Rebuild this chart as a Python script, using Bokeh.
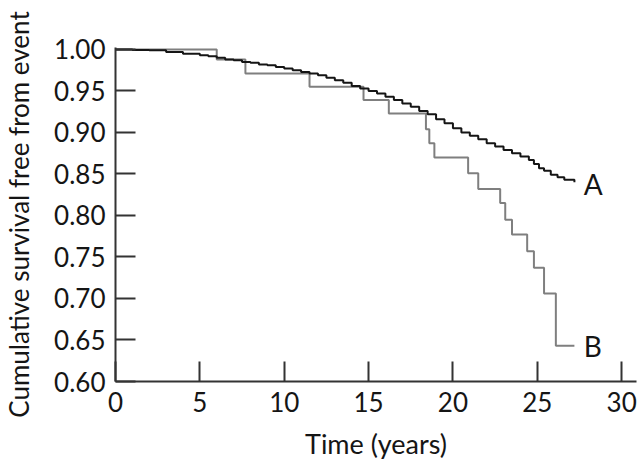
from bokeh.plotting import figure
from bokeh.models import FixedTicker, Range1d, Label, PrintfTickFormatter
from bokeh.embed import file_html
from bokeh.resources import INLINE

# Series A (black) Kaplan-Meier steps
a_time = [0, 1, 2, 3, 4, 5, 5.5, 6, 6.5, 7, 7.5, 8, 8.5, 9, 9.5, 10, 10.5, 11, 11.5,
          12, 12.5, 13, 13.5, 14, 14.5, 15, 15.5, 16, 16.5, 17, 17.5, 18, 18.5, 19,
          19.5, 20, 20.5, 21, 21.5, 22, 22.5, 23, 23.5, 24, 24.5, 24.8, 25.1, 25.4,
          25.8, 26.2, 26.6, 27.2]
a_surv = [1.000, 0.9995, 0.999, 0.997, 0.995, 0.993, 0.992, 0.990, 0.988, 0.987,
          0.985, 0.984, 0.982, 0.981, 0.979, 0.977, 0.975, 0.973, 0.971, 0.969,
          0.966, 0.963, 0.960, 0.956, 0.953, 0.950, 0.947, 0.943, 0.939, 0.935,
          0.931, 0.926, 0.922, 0.916, 0.911, 0.905, 0.900, 0.896, 0.892, 0.887,
          0.883, 0.879, 0.875, 0.871, 0.867, 0.862, 0.857, 0.854, 0.849, 0.846,
          0.843, 0.840]

# Series B (grey) Kaplan-Meier steps
b_time = [0, 6.0, 7.7, 11.5, 14.7, 16.2, 18.4, 18.6, 18.9, 20.9, 21.5, 22.8, 23.1,
          23.5, 24.4, 24.8, 25.4, 26.1, 27.2]
b_surv = [1.000, 0.988, 0.971, 0.955, 0.939, 0.923, 0.904, 0.887, 0.870, 0.851,
          0.832, 0.815, 0.795, 0.777, 0.757, 0.737, 0.706, 0.643, 0.643]

x_ticks = [0, 5, 10, 15, 20, 25, 30]
y_ticks = [0.60, 0.65, 0.70, 0.75, 0.80, 0.85, 0.90, 0.95, 1.00]

FONT = "Lato"

p = figure(width=640, height=462, output_backend="svg", toolbar_location=None,
           x_range=Range1d(0, 30.88), y_range=Range1d(0.60, 1.0024),
           min_border_left=111, min_border_right=4, min_border_top=47,
           min_border_bottom=77)
p.outline_line_color = None
p.xgrid.visible = False
p.ygrid.visible = False

p.step(b_time, b_surv, mode="after", line_color="#7f7f7f", line_width=2)
p.step(a_time, a_surv, mode="after", line_color="#151515", line_width=2)

p.add_layout(Label(x=a_time[-1] + 0.55, y=a_surv[-1], text="A", text_align="left",
                   text_baseline="middle", text_font=FONT, text_font_size="28px",
                   text_color="#151515", y_offset=-2))
p.add_layout(Label(x=b_time[-1] + 0.55, y=b_surv[-1], text="B", text_align="left",
                   text_baseline="middle", text_font=FONT, text_font_size="28px",
                   text_color="#151515"))

for ax in (p.xaxis[0], p.yaxis[0]):
    ax.axis_line_color = "#333333"
    ax.axis_line_width = 2
    ax.major_tick_line_color = "#333333"
    ax.major_tick_line_width = 2
    ax.major_tick_in = 20
    ax.major_tick_out = 0
    ax.minor_tick_line_color = None
    ax.major_label_text_font = FONT
    ax.major_label_text_font_size = "26px"
    ax.major_label_text_color = "#151515"
    ax.axis_label_text_font = FONT
    ax.axis_label_text_font_style = "normal"
    ax.axis_label_text_color = "#151515"

p.xaxis.axis_label_text_font_size = "27px"
p.yaxis.axis_label_text_font_size = "26px"
p.xaxis.ticker = FixedTicker(ticks=x_ticks)
p.yaxis.ticker = FixedTicker(ticks=y_ticks)
p.yaxis.formatter = PrintfTickFormatter(format="%.2f")
p.xaxis.axis_label = "Time (years)"
p.yaxis.axis_label = "Cumulative survival free from event"
p.xaxis.major_label_standoff = 10
p.yaxis.major_label_standoff = 10
p.xaxis.axis_label_standoff = 12
p.yaxis.axis_label_standoff = 16

open("out.html", "w").write(file_html(p, INLINE))
